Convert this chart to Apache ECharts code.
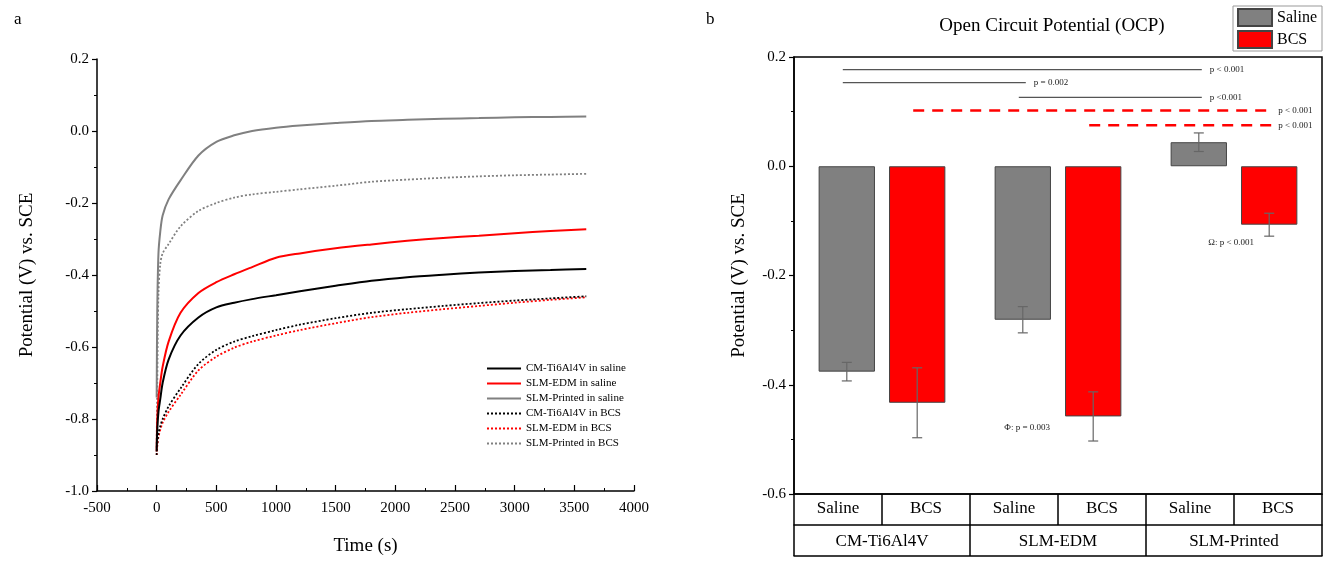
<!DOCTYPE html>
<html>
<head>
<meta charset="utf-8">
<script src="https://cdn.jsdelivr.net/npm/echarts@6/dist/echarts.min.js"></script>
<style>html,body{margin:0;padding:0;background:#fff}#c{width:1325px;height:561px}</style>
</head>
<body>
<div id="c"></div>
<script>
// ---------- Panel a data ----------
const times = [0, 5, 15, 30, 50, 100, 200, 350, 500, 650, 800, 1000, 1200, 1500, 1800, 2100, 2400, 2700, 3000, 3300, 3600];
const cmSaline     = [-0.89, -0.83, -0.78, -0.745, -0.70, -0.635, -0.568, -0.518, -0.490, -0.477, -0.467, -0.456, -0.445, -0.430, -0.416, -0.406, -0.399, -0.393, -0.389, -0.386, -0.383];
const edmSaline    = [-0.89, -0.80, -0.74, -0.70, -0.655, -0.585, -0.505, -0.450, -0.420, -0.398, -0.378, -0.352, -0.340, -0.326, -0.315, -0.305, -0.297, -0.291, -0.284, -0.278, -0.273];
const printSaline  = [-0.74, -0.50, -0.34, -0.28, -0.235, -0.19, -0.137, -0.068, -0.030, -0.012, 0.000, 0.009, 0.015, 0.022, 0.028, 0.031, 0.034, 0.036, 0.038, 0.039, 0.040];
const cmBCS        = [-0.90, -0.87, -0.84, -0.82, -0.80, -0.765, -0.715, -0.647, -0.608, -0.585, -0.570, -0.553, -0.538, -0.520, -0.505, -0.495, -0.486, -0.478, -0.471, -0.465, -0.459];
const edmBCS       = [-0.90, -0.875, -0.85, -0.83, -0.81, -0.78, -0.733, -0.665, -0.627, -0.602, -0.585, -0.568, -0.553, -0.534, -0.517, -0.505, -0.495, -0.486, -0.477, -0.469, -0.462];
const printBCS     = [-0.88, -0.70, -0.45, -0.37, -0.34, -0.314, -0.265, -0.222, -0.200, -0.185, -0.176, -0.169, -0.162, -0.152, -0.141, -0.135, -0.130, -0.126, -0.123, -0.121, -0.119];
const lineNames = ['CM-Ti6Al4V in saline', 'SLM-EDM in saline', 'SLM-Printed in saline', 'CM-Ti6Al4V in BCS', 'SLM-EDM in BCS', 'SLM-Printed in BCS'];

// ---------- Panel b data ----------
const groups = ['CM-Ti6Al4V', 'SLM-EDM', 'SLM-Printed'];
const subCats = ['Saline', 'BCS', 'Saline', 'BCS', 'Saline', 'BCS'];
const barNames = ['Saline', 'BCS'];
const salineMean = [-0.376, -0.281, 0.044];
const salineSD   = [0.017, 0.024, 0.017];
const bcsMean    = [-0.433, -0.458, -0.107];
const bcsSD      = [0.064, 0.045, 0.021];
// brackets: [fromGroup, fromBar, toGroup, toBar, y]
const brackets = [
  [0, 0, 2, 0, 0.177],
  [0, 0, 1, 0, 0.153],
  [1, 0, 2, 0, 0.126],
  [0, 1, 2, 1, 0.102],
  [1, 1, 2, 1, 0.075]
];
const bracketText = ['p < 0.001', 'p = 0.002', 'p <0.001', 'p < 0.001', 'p < 0.001'];
const bracketKind = ['gray', 'gray', 'gray', 'red', 'red'];
// notes: [group, bar, y]
const notes = [[1, 1, -0.478], [2, 1, -0.14]];
const noteText = ['\u03a6: p = 0.003', '\u03a9: p < 0.001'];

const FONT = 'Liberation Serif';
const CAT_GAP = 0.28, BAR_GAP = 0.25;
const noteShift = [-66, -38];

function barX(api, g, b) {
  const band = api.size([1, 0])[0];
  const w = band * (1 - CAT_GAP) / (2 + BAR_GAP);
  const off = (w + w * BAR_GAP) / 2;
  return api.coord([g, 0])[0] + (b ? off : -off);
}

const lineData = [cmSaline, edmSaline, printSaline, cmBCS, edmBCS, printBCS];
const lineColors = ['#000000', '#ff0000', '#808080', '#000000', '#ff0000', '#808080'];
const lineSeries = lineData.map((vals, i) => ({
  name: lineNames[i],
  type: 'line',
  xAxisIndex: 0, yAxisIndex: 0,
  data: times.map((t, j) => [t, vals[j]]),
  smooth: 0.3,
  symbol: 'none',
  lineStyle: { color: lineColors[i], width: i < 3 ? 2 : 1.8, type: i < 3 ? 'solid' : [2, 2] },
  itemStyle: { color: lineColors[i] },
  z: 10 - i
}));

const errData = [];
for (let i = 0; i < groups.length; i++) {
  errData.push([i, salineMean[i], salineSD[i], 0]);
  errData.push([i, bcsMean[i], bcsSD[i], 1]);
}

const option = {
  animation: false,
  backgroundColor: '#fff',
  textStyle: { fontFamily: FONT, color: '#000' },
  title: [
    { text: 'a', left: 9, top: 6, textStyle: { fontFamily: FONT, fontSize: 17, fontWeight: 'normal', color: '#000' } },
    { text: 'b', left: 701, top: 6, textStyle: { fontFamily: FONT, fontSize: 17, fontWeight: 'normal', color: '#000' } },
    { text: 'Open Circuit Potential (OCP)', left: 1047, textAlign: 'center', top: 12, textStyle: { fontFamily: FONT, fontSize: 19, fontWeight: 'normal', color: '#000' } }
  ],
  legend: [
    {
      data: lineNames, orient: 'vertical', left: 486, top: 363,
      itemWidth: 34, itemHeight: 11, itemGap: 4,
      itemStyle: { opacity: 0 },
      textStyle: { fontFamily: FONT, fontSize: 11, color: '#000' },
      padding: 0
    },
    {
      data: barNames, orient: 'vertical', right: 3, top: 6,
      icon: 'rect',
      itemWidth: 34, itemHeight: 17, itemGap: 3,
      borderColor: '#999', borderWidth: 1, padding: [2, 5, 2, 4],
      textStyle: { fontFamily: FONT, fontSize: 16, color: '#000' }
    }
  ],
  grid: [
    { left: 97, right: 691, top: 59, bottom: 67 },
    { left: 794, right: 3, top: 57, bottom: 67, show: true, borderColor: '#000', borderWidth: 1.5 }
  ],
  xAxis: [
    {
      gridIndex: 0, type: 'value', min: -500, max: 4000, interval: 500,
      name: 'Time (s)', nameLocation: 'middle', nameGap: 46,
      nameTextStyle: { fontFamily: FONT, fontSize: 19, color: '#000' },
      axisLine: { show: true, onZero: false, lineStyle: { color: '#000', width: 1.5 } },
      axisTick: { show: true, inside: true, length: 6, lineStyle: { color: '#000', width: 1.2 } },
      minorTick: { show: true, splitNumber: 2, length: 3, lineStyle: { color: '#000' } },
      splitLine: { show: false },
      axisLabel: { fontFamily: FONT, fontSize: 15, color: '#000', margin: 10, formatter: v => String(v) }
    },
    {
      gridIndex: 1, type: 'category', data: groups, position: 'bottom',
      axisLine: { show: true, onZero: false, lineStyle: { color: '#000', width: 1.5 } },
      axisTick: { show: true, inside: false, length: 62, interval: 0, lineStyle: { color: '#000', width: 1.5 } },
      axisLabel: { fontFamily: FONT, fontSize: 17, color: '#000', margin: 39, interval: 0 },
      splitLine: { show: false }
    },
    {
      gridIndex: 1, type: 'category', data: subCats, position: 'bottom', offset: 31,
      axisLine: { show: true, onZero: false, lineStyle: { color: '#000', width: 1.5 } },
      axisTick: { show: true, inside: true, length: 31, interval: 0, lineStyle: { color: '#000', width: 1.5 } },
      axisLabel: { inside: true, fontFamily: FONT, fontSize: 17, color: '#000', margin: 8, interval: 0 },
      splitLine: { show: false }
    },
    {
      gridIndex: 1, type: 'category', data: groups, position: 'bottom', offset: 62,
      axisLine: { show: true, onZero: false, lineStyle: { color: '#000', width: 1.5 } },
      axisTick: { show: false }, axisLabel: { show: false }, splitLine: { show: false }
    }
  ],
  yAxis: [
    {
      gridIndex: 0, type: 'value', min: -1.0, max: 0.2, interval: 0.2,
      name: 'Potential (V) vs. SCE', nameLocation: 'middle', nameGap: 60,
      nameTextStyle: { fontFamily: FONT, fontSize: 19, color: '#000' },
      axisLine: { show: true, onZero: false, lineStyle: { color: '#000', width: 1.5 } },
      axisTick: { show: true, inside: false, length: 5, lineStyle: { color: '#000', width: 1.2 } },
      minorTick: { show: true, splitNumber: 2, length: 3, lineStyle: { color: '#000' } },
      splitLine: { show: false },
      axisLabel: { fontFamily: FONT, fontSize: 15, color: '#000', margin: 8, formatter: v => v.toFixed(1) }
    },
    {
      gridIndex: 1, type: 'value', min: -0.6, max: 0.2, interval: 0.2,
      name: 'Potential (V) vs. SCE', nameLocation: 'middle', nameGap: 45,
      nameTextStyle: { fontFamily: FONT, fontSize: 19, color: '#000' },
      axisLine: { show: true, onZero: false, lineStyle: { color: '#000', width: 1.5 } },
      axisTick: { show: true, inside: false, length: 5, lineStyle: { color: '#000', width: 1.2 } },
      minorTick: { show: true, splitNumber: 2, length: 3, lineStyle: { color: '#000' } },
      splitLine: { show: false },
      axisLabel: { fontFamily: FONT, fontSize: 15, color: '#000', margin: 8, formatter: v => v.toFixed(1) }
    }
  ],
  series: lineSeries.concat([
    {
      name: 'Saline', type: 'bar', xAxisIndex: 1, yAxisIndex: 1, data: salineMean,
      barGap: (BAR_GAP * 100) + '%', barCategoryGap: (CAT_GAP * 100) + '%',
      itemStyle: { color: '#808080', borderColor: '#444', borderWidth: 1 }
    },
    {
      name: 'BCS', type: 'bar', xAxisIndex: 1, yAxisIndex: 1, data: bcsMean,
      barGap: (BAR_GAP * 100) + '%', barCategoryGap: (CAT_GAP * 100) + '%',
      itemStyle: { color: '#ff0000', borderColor: '#444', borderWidth: 1 }
    },
    {
      type: 'custom', xAxisIndex: 1, yAxisIndex: 1, z: 20, data: errData,
      renderItem: function (params, api) {
        const g = api.value(0), m = api.value(1), sd = api.value(2), b = api.value(3);
        const x = barX(api, g, b);
        const yT = api.coord([g, m + sd])[1], yB = api.coord([g, m - sd])[1];
        const st = { stroke: '#666', lineWidth: 1.2 };
        return { type: 'group', children: [
          { type: 'line', shape: { x1: x, y1: yT, x2: x, y2: yB }, style: st },
          { type: 'line', shape: { x1: x - 5, y1: yT, x2: x + 5, y2: yT }, style: st },
          { type: 'line', shape: { x1: x - 5, y1: yB, x2: x + 5, y2: yB }, style: st }
        ] };
      }
    },
    {
      type: 'custom', xAxisIndex: 1, yAxisIndex: 1, z: 20, data: brackets,
      renderItem: function (params, api) {
        const i = params.dataIndex;
        const x1 = barX(api, api.value(0), api.value(1)) - 4;
        const x2 = barX(api, api.value(2), api.value(3)) + 3;
        const y = api.coord([api.value(0), api.value(4)])[1];
        const red = bracketKind[i] === 'red';
        return { type: 'group', children: [
          { type: 'line', shape: { x1: x1, y1: y, x2: x2, y2: y },
            style: red ? { stroke: '#ff0000', lineWidth: 2.5, lineDash: [11, 8] } : { stroke: '#555', lineWidth: 1.2 } },
          { type: 'text', style: { x: x2 + (red ? 6 : 8), y: y, text: bracketText[i], fill: '#222',
            font: '9px "Liberation Serif"', textAlign: 'left', textVerticalAlign: 'middle' } }
        ] };
      }
    },
    {
      type: 'custom', xAxisIndex: 1, yAxisIndex: 1, z: 20, data: notes,
      renderItem: function (params, api) {
        const i = params.dataIndex;
        const x = barX(api, api.value(0), api.value(1)) + noteShift[i];
        const y = api.coord([api.value(0), api.value(2)])[1];
        return { type: 'text', style: { x: x, y: y, text: noteText[i], fill: '#222',
          font: '9px "Liberation Serif"', textAlign: 'center', textVerticalAlign: 'middle' } };
      }
    }
  ])
};

const chart = echarts.init(document.getElementById('c'), null, { renderer: 'canvas' });
chart.setOption(option);
</script>
</body>
</html>
